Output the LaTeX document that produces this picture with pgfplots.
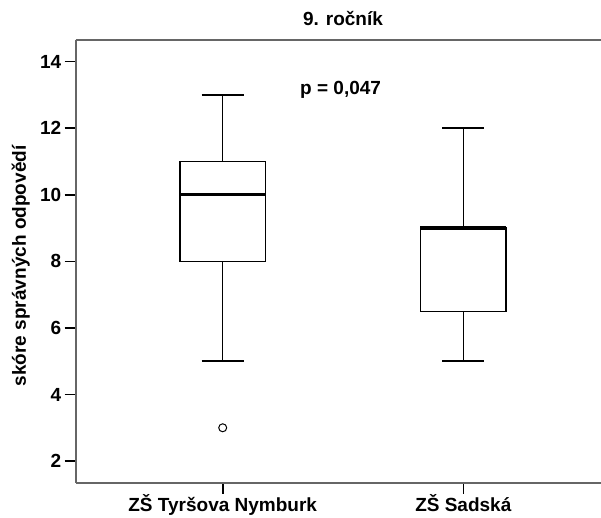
\documentclass[border=0pt]{standalone}
\usepackage{fontspec}
\setmainfont{Liberation Sans}
\usepackage{pgfplots}
\pgfplotsset{compat=1.18}
\usepgfplotslibrary{statistics}

\newcommand{\lab}{\fontsize{19}{22}\selectfont\bfseries}

\begin{document}
\begin{tikzpicture}
\useasboundingbox (0pt,0pt) rectangle (601pt,518pt);
\begin{axis}[
  at={(75.7pt,35.3pt)}, anchor=south west,
  scale only axis, width=534.6pt, height=442.7pt,
  xmin=-0.611, xmax=1.611, ymin=1.35, ymax=14.65,
  axis x line*=bottom, axis y line*=left,
  axis line style={draw=black!60, line width=2pt},
  extra description/.code={
    \draw[black!60, line width=2pt] (rel axis cs:0,1) -- (rel axis cs:1,1);},
  xtick={0,1}, xticklabels={ZŠ Tyršova Nymburk, ZŠ Sadská},
  ytick={2,4,...,14},
  tick align=outside, major tick length=11pt,
  tick style={black, line width=1.6pt},
  /pgf/number format/assume math mode=true,
  tick label style={font=\lab},
  xticklabel style={anchor=base, yshift=-18pt},
  yticklabel style={anchor=east},
  every axis title/.style={at={(0.5,1)}, anchor=base, yshift=14pt, font=\lab},
  title={9. ročník},
  ylabel={skóre správných odpovědí},
  every axis y label/.style={at={(axis description cs:-0.103,0.49)}, rotate=90, anchor=center, font=\lab},
  boxplot/draw direction=y,
  boxplot/box extend=0.356,
  boxplot/whisker extend=0.175,
]
\addplot[boxplot prepared={draw position=0,
    lower whisker=5, lower quartile=8, median=10,
    upper quartile=11, upper whisker=13},
  draw=black, line width=1.5pt, mark=o, mark size=4pt,
  mark options={black, line width=1pt},
  boxplot/every median/.style={line width=3.2pt}]
  table[row sep=\\, y index=0] {data\\ 3\\};
\addplot[boxplot prepared={draw position=1,
    lower whisker=5, lower quartile=6.5, median=9,
    upper quartile=9, upper whisker=12},
  draw=black, line width=1.5pt,
  boxplot/every median/.style={line width=3.2pt}]
  coordinates {};
\node[font=\lab, anchor=base] at (axis cs:0.49,13.0) {p = 0,047};
\end{axis}
\end{tikzpicture}
\end{document}
